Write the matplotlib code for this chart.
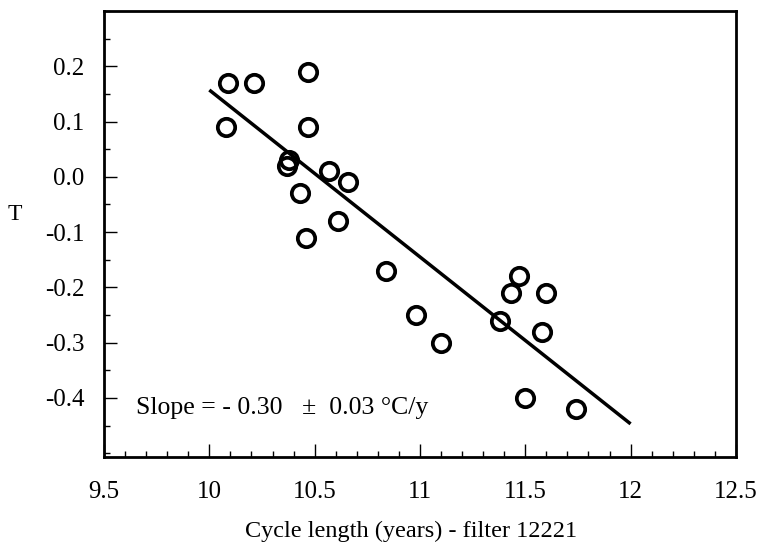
import numpy as np
import matplotlib
matplotlib.use("Agg")
import matplotlib.pyplot as plt
from matplotlib.ticker import MultipleLocator

# cycle length (years) and temperature anomaly
cycle_len = [10.09, 10.21, 10.47, 10.08, 10.47, 10.38, 10.37, 10.57, 10.66,
             10.43, 10.61, 10.46, 10.84, 10.98, 11.10, 11.47, 11.43, 11.60,
             11.38, 11.58, 11.50, 11.74]
temp = [0.17, 0.17, 0.19, 0.09, 0.09, 0.03, 0.02, 0.01, -0.01,
        -0.03, -0.08, -0.11, -0.17, -0.25, -0.30, -0.18, -0.21, -0.21,
        -0.26, -0.28, -0.40, -0.42]

fit_x = [10.0, 12.0]
fit_y = [0.157, -0.447]

x_ticks = [9.5, 10, 10.5, 11, 11.5, 12, 12.5]
x_labels = ["9.5", "10", "10.5", "11", "11.5", "12", "12.5"]
y_ticks = [-0.4, -0.3, -0.2, -0.1, 0.0, 0.1, 0.2]
y_labels = ["-0.4", "-0.3", "-0.2", "-0.1", "0.0", "0.1", "0.2"]

plt.rcParams["font.family"] = ["Liberation Serif", "DejaVu Serif"]

fig = plt.figure(figsize=(7.61, 5.48), dpi=100)
ax = fig.add_axes([0.1367, 0.166, 0.8303, 0.814])

ax.plot(fit_x, fit_y, color="black", lw=2.5, solid_capstyle="butt")
ax.plot(cycle_len, temp, "o", mfc="none", mec="black", ms=12.5, mew=2.7)

ax.set_xlim(9.5, 12.5)
ax.set_ylim(-0.507, 0.3)
ax.set_xticks(x_ticks)
ax.set_xticklabels(x_labels)
ax.set_yticks(y_ticks)
ax.set_yticklabels(y_labels)
ax.xaxis.set_minor_locator(MultipleLocator(0.1))
ax.yaxis.set_minor_locator(MultipleLocator(0.05))

ax.tick_params(which="major", direction="in", length=9.5, width=1, labelsize=18)
ax.tick_params(which="minor", direction="in", length=4.5, width=1)
ax.tick_params(axis="x", which="major", pad=17)
ax.tick_params(axis="y", which="major", pad=14)
for s in ax.spines.values():
    s.set_linewidth(2)

ax.set_xlabel("Cycle length (years) - filter 12221", fontsize=17.5)
ax.xaxis.set_label_coords(0.4866, -0.143)
fig.text(15 / 761, 1 - 215 / 548, "T", fontsize=17, ha="center", va="center")

ax.text(0.05, 0.11, "Slope = - 0.30   \u00b1  0.03 \u00b0C/y", transform=ax.transAxes,
        fontsize=18.5, va="center", ha="left")

fig.savefig("out.png", dpi=100)
